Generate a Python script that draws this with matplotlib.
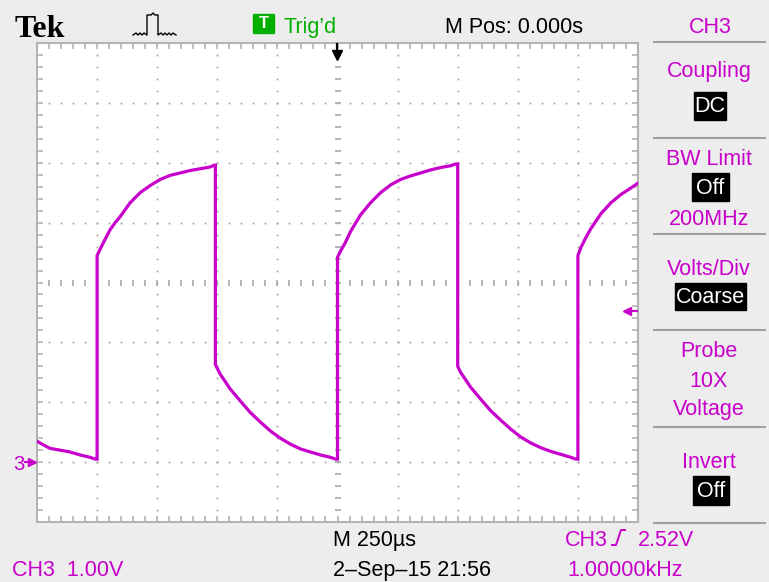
import numpy as np
import matplotlib
matplotlib.use("Agg")
import matplotlib.pyplot as plt
from matplotlib.lines import Line2D
from matplotlib.patches import Rectangle

# scope settings
t_min, t_max = -1250, 1250      # us, 250 us/div
v_min, v_max = -1.0, 7.0        # V, 1 V/div, ground 3 div below centre
trig_level = 2.52

# trace (time in us, volts)
tail0_t = [-1250, -1229, -1196, -1154, -1113, -1071, -1029, -1008]
tail0_v = [0.35, 0.30, 0.23, 0.20, 0.17, 0.12, 0.08, 0.05]
rise1_t = [-1000, -1000, -988, -967, -946, -925, -904, -863, -821, -779, -738, -696, -654, -613, -571, -529, -513]
rise1_v = [0.05, 3.45, 3.55, 3.72, 3.88, 4.00, 4.10, 4.33, 4.50, 4.62, 4.72, 4.79, 4.83, 4.87, 4.90, 4.93, 4.96]
fall1_t = [-508, -508, -488, -446, -404, -363, -321, -279, -238, -196, -154, -113, -71, -29, -8]
fall1_v = [4.96, 1.63, 1.47, 1.22, 1.02, 0.83, 0.67, 0.52, 0.40, 0.30, 0.22, 0.17, 0.12, 0.08, 0.05]
rise2_t = [0, 0, 12, 33, 54, 96, 137, 179, 221, 262, 304, 346, 387, 429, 471, 492]
rise2_v = [0.05, 3.42, 3.52, 3.67, 3.85, 4.13, 4.33, 4.50, 4.63, 4.72, 4.78, 4.83, 4.88, 4.92, 4.95, 4.98]
fall2_t = [500, 500, 512, 554, 596, 637, 679, 721, 762, 804, 846, 887, 929, 971, 992]
fall2_v = [4.98, 1.60, 1.50, 1.25, 1.05, 0.86, 0.70, 0.55, 0.42, 0.32, 0.24, 0.18, 0.13, 0.08, 0.05]
rise3_t = [1000, 1000, 1012, 1033, 1054, 1096, 1137, 1179, 1221, 1250]
rise3_v = [0.05, 3.45, 3.58, 3.75, 3.90, 4.15, 4.33, 4.47, 4.58, 4.66]

# side menu
menu_titles = ["Coupling", "BW Limit", "Volts/Div", "Probe", "Invert"]

MAG = "#C800CC"
GRN = "#00B000"
GRAY = "#A8A8A8"
SANS = ["Liberation Sans", "DejaVu Sans"]
FS = 15.5

W, H = 769, 582
def fx(x):
    return x / W
def fy(y):
    return 1 - y / H

fig = plt.figure(figsize=(W / 100, H / 100), dpi=100, facecolor="#EDEDED")
ax = fig.add_axes([fx(37), fy(522), 601 / W, 479 / H])
ax.set_facecolor("white")
ax.set_xlim(t_min, t_max)
ax.set_ylim(v_min, v_max)

# graticule: dotted division lines
minor_t = np.arange(t_min, t_max + 1, 50)
minor_v = np.arange(v_min, v_max + 0.01, 0.2)
for tt in np.arange(-1000, 1001, 250):
    if tt == 0:
        continue
    ax.plot(np.full(len(minor_v), tt), minor_v, ls="none", marker="s", ms=1.3,
            mec="none", mfc=GRAY, zorder=1)
for vv in np.arange(0, 7, 1.0):
    if vv == 3:
        continue
    ax.plot(minor_t, np.full(len(minor_t), vv), ls="none", marker="s", ms=1.3,
            mec="none", mfc=GRAY, zorder=1)
# centre cross with small ticks
ax.plot(minor_t, np.full(len(minor_t), 3.0), ls="none", marker="|", ms=4.5,
        mew=1.2, color=GRAY, zorder=1)
ax.plot(np.zeros(len(minor_v)), minor_v, ls="none", marker="_", ms=5,
        mew=1.2, color=GRAY, zorder=1)

# frame with ruler ticks
for s in ax.spines.values():
    s.set_color("#B4B4B4")
    s.set_linewidth(1.5)
ax.set_xticks(minor_t)
ax.set_yticks(minor_v)
ax.tick_params(direction="in", length=4, width=1.2, color="#B4B4B4",
               top=True, right=True, labelbottom=False, labelleft=False)

# trace
pieces = [(tail0_t, tail0_v), (rise1_t, rise1_v), (fall1_t, fall1_v),
          (rise2_t, rise2_v), (fall2_t, fall2_v), (rise3_t, rise3_v)]
trace_t = [t for p in pieces for t in p[0]]
trace_v = [v for p in pieces for v in p[1]]
ax.plot(trace_t, trace_v, color=MAG, lw=2.3, solid_joinstyle="miter", zorder=3)

# trigger level arrow on the right edge
ax.plot([1200, 1245], [trig_level, trig_level], color=MAG, lw=1.5, zorder=4)
ax.plot([1205], [trig_level], marker="<", ms=6, color=MAG, zorder=4)

# header
fig.text(fx(15), fy(37), "Tek", family="Liberation Serif", weight="bold",
         fontsize=23, va="baseline")
pulse_x = [133, 136, 138, 140, 142, 144, 147, 147, 151, 153, 155, 158, 158,
           161, 163, 165, 167, 169, 171, 173, 176]
pulse_y = [35, 33, 35, 33, 35, 33, 35, 15, 15, 13, 15, 15, 35,
           33, 35, 33, 35, 33, 35, 33, 35]
fig.add_artist(Line2D([fx(x) for x in pulse_x], [fy(y) for y in pulse_y],
                      color="black", lw=1.0))
fig.add_artist(Rectangle((fx(253), fy(33)), 21 / W, 19 / H, color=GRN,
                         transform=fig.transFigure))
fig.text(fx(263.5), fy(23.5), "T", color="white", fontsize=12, weight="bold",
         family=SANS, ha="center", va="center")
fig.text(fx(283), fy(33), "Trig\u2019d", color=GRN, fontsize=FS, family=SANS,
         va="baseline")
fig.text(fx(445), fy(33), "M Pos: 0.000s", color="black", fontsize=FS,
         family=SANS, va="baseline")
fig.text(fx(710), fy(33), "CH3", color=MAG, fontsize=FS, family=SANS,
         ha="center", va="baseline")

# trigger position marker
fig.add_artist(Line2D([fx(337), fx(337)], [fy(44), fy(53)], color="black", lw=1.6))
fig.add_artist(Line2D([fx(337)], [fy(55)], marker="v", ms=7, color="black"))

# ground marker
fig.text(fx(13), fy(470), "3", color=MAG, fontsize=14.5, family=SANS, va="baseline")
fig.add_artist(Line2D([fx(25), fx(31)], [fy(462), fy(462)], color=MAG, lw=1.5))
fig.add_artist(Line2D([fx(32)], [fy(462)], marker=">", ms=5.5, color=MAG))

# side menu
for y in [42, 138, 234, 330, 427, 523]:
    fig.add_artist(Line2D([fx(654), fx(765)], [fy(y), fy(y)], color="#A0A0A0", lw=1.5))

def menu_text(y, s):
    fig.text(fx(709), fy(y), s, color=MAG, fontsize=FS, family=SANS,
             ha="center", va="baseline")

def menu_box(y0, y1, x0, x1, s):
    fig.add_artist(Rectangle((fx(x0), fy(y1)), (x1 - x0) / W, (y1 - y0) / H,
                             color="black", transform=fig.transFigure))
    fig.text(fx((x0 + x1) / 2), fy((y0 + y1) / 2 + 1), s, color="white",
             fontsize=FS, family=SANS, ha="center", va="center")

menu_text(77, menu_titles[0])
menu_box(92, 120, 694, 726, "DC")
menu_text(165, menu_titles[1])
menu_box(173, 201, 692, 729, "Off")
menu_text(225, "200MHz")
menu_text(275, menu_titles[2])
menu_box(283, 310, 675, 746, "Coarse")
menu_text(357, menu_titles[3])
menu_text(387, "10X")
menu_text(415, "Voltage")
menu_text(468, menu_titles[4])
menu_box(476, 505, 693, 729, "Off")

# footer
fig.text(fx(333), fy(546), "M 250\u00b5s", color="black", fontsize=FS,
         family=SANS, va="baseline")
fig.text(fx(565), fy(546), "CH3", color=MAG, fontsize=FS, family=SANS,
         va="baseline")
fig.add_artist(Line2D([fx(612), fx(616), fx(621), fx(625)],
                      [fy(545), fy(545), fy(530), fy(530)], color=MAG, lw=1.4))
fig.text(fx(638), fy(546), "2.52V", color=MAG, fontsize=FS, family=SANS,
         va="baseline")
fig.text(fx(12), fy(576), "CH3  1.00V", color=MAG, fontsize=FS, family=SANS,
         va="baseline")
fig.text(fx(333), fy(576), "2\u2013Sep\u201315 21:56", color="black", fontsize=FS,
         family=SANS, va="baseline")
fig.text(fx(567), fy(576), "1.00000kHz", color=MAG, fontsize=FS, family=SANS,
         va="baseline")

fig.savefig("out.png", dpi=100, facecolor=fig.get_facecolor())
